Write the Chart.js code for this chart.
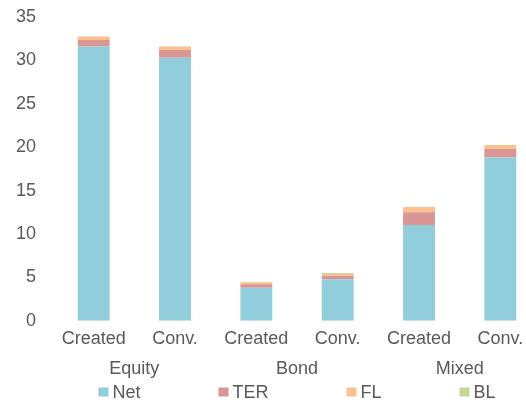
<!DOCTYPE html>
<html>
<head>
    <meta charset="UTF-8">
    <title>Fee components by fund type</title>
    <script src="https://cdn.jsdelivr.net/npm/chart.js"></script>
    <style>
        html, body { margin: 0; padding: 0; overflow: hidden; background: #fff; }
        #wrap { position: relative; width: 548px; height: 403px; }
    </style>
</head>
<body>
    <div id="wrap"><canvas id="feeChart"></canvas></div>

    <script>
        // categories
        const labels = ['Created', 'Conv.', 'Created', 'Conv.', 'Created', 'Conv.'];
        const groups = ['Equity', 'Bond', 'Mixed'];

        // series values
        const net = [31.6, 30.3, 3.8, 4.8, 11.05, 18.8];
        const ter = [0.75, 0.9, 0.4, 0.4, 1.45, 1.0];
        const fl  = [0.4, 0.4, 0.25, 0.2, 0.6, 0.45];
        const bl  = [0, 0, 0, 0.12, 0, 0];

        const yTicks = [0, 5, 10, 15, 20, 25, 30, 35];

        const grey = '#595959';
        const font = { family: 'Arial, "Liberation Sans", sans-serif', size: 18 };

        // keep label overhang from pushing the plot area in
        const noPad = scale => {
            scale.paddingLeft = 0; scale.paddingRight = 0;
            scale.paddingTop = 0; scale.paddingBottom = 0;
        };

        // simple legend drawn under the axes, centred on the plot area
        const bottomLegend = {
            id: 'bottomLegend',
            afterDraw(chart) {
                const ctx = chart.ctx;
                const area = chart.chartArea;
                const box = 10, gap = 4, spacing = 78;
                ctx.save();
                ctx.font = font.size + 'px ' + font.family;
                const items = chart.data.datasets.map(ds => ({
                    text: ds.label,
                    color: ds.backgroundColor,
                    w: box + gap + ctx.measureText(ds.label).width
                }));
                let total = items.reduce((s, it) => s + it.w, 0) + spacing * (items.length - 1);
                let x = (area.left + area.right) / 2 - total / 2;
                const y = 392;
                ctx.textBaseline = 'middle';
                items.forEach(it => {
                    ctx.fillStyle = it.color;
                    ctx.fillRect(x, y - 4.5, box, 9);
                    ctx.fillStyle = grey;
                    ctx.fillText(it.text, x + box + gap, y + 1);
                    x += it.w + spacing;
                });
                ctx.restore();
            }
        };

        new Chart(document.getElementById('feeChart'), {
            type: 'bar',
            data: {
                labels: labels,
                datasets: [
                    { label: 'Net', data: net, backgroundColor: '#92CDDC' },
                    { label: 'TER', data: ter, backgroundColor: '#DA9694' },
                    { label: 'FL',  data: fl,  backgroundColor: '#FAC090' },
                    { label: 'BL',  data: bl,  backgroundColor: '#C4D79B' }
                ]
            },
            options: {
                responsive: true,
                maintainAspectRatio: false,
                animation: false,
                categoryPercentage: 0.8,
                barPercentage: 0.49,
                layout: { padding: { left: -1, right: 7, top: 17, bottom: 21 } },
                plugins: {
                    legend: { display: false },
                    tooltip: { enabled: false }
                },
                scales: {
                    x: {
                        stacked: true,
                        afterFit: noPad,
                        grid: { display: false, drawTicks: false },
                        border: { display: false },
                        ticks: { color: grey, font: font, padding: 7, maxRotation: 0, autoSkip: false }
                    },
                    x2: {
                        type: 'category',
                        labels: groups,
                        position: 'bottom',
                        offset: true,
                        afterFit: noPad,
                        grid: { display: false, drawTicks: false },
                        border: { display: false },
                        ticks: { color: grey, font: font, padding: 2, maxRotation: 0 }
                    },
                    y: {
                        stacked: true,
                        min: 0,
                        max: 35,
                        afterFit: noPad,
                        afterBuildTicks: axis => { axis.ticks = yTicks.map(v => ({ value: v })); },
                        grid: { display: false, drawTicks: false },
                        border: { display: false },
                        ticks: { color: grey, font: font, padding: 17 }
                    }
                }
            },
            plugins: [bottomLegend]
        });
    </script>
</body>
</html>
